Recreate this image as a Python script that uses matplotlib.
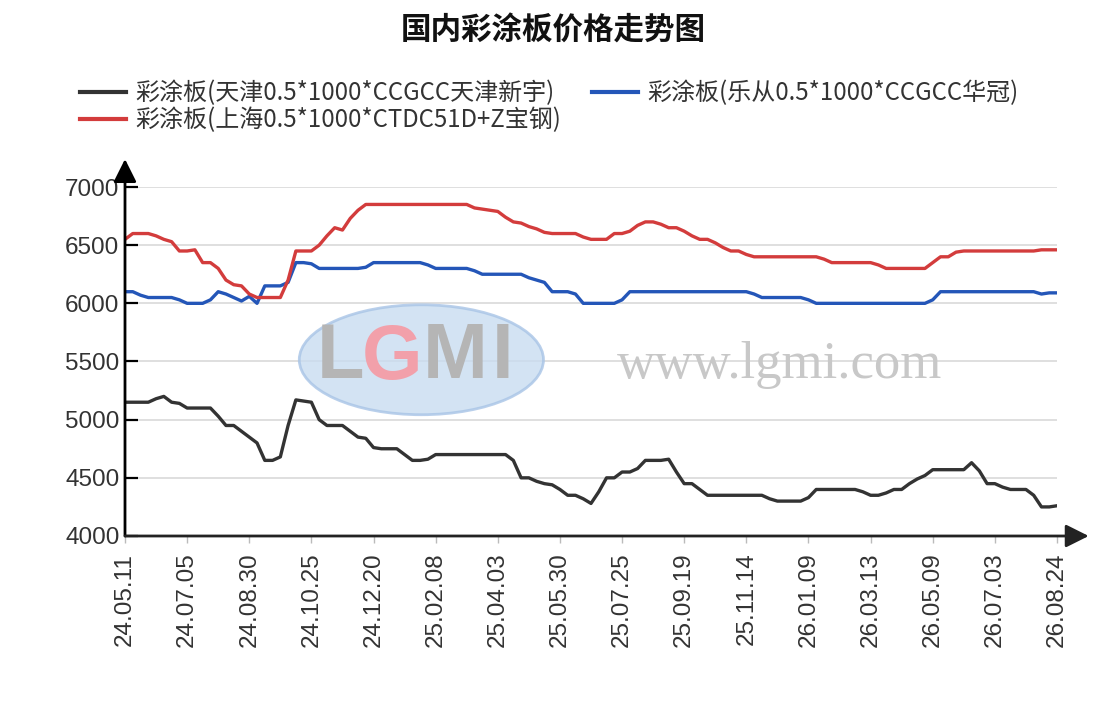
import numpy as np
import matplotlib.pyplot as plt
from matplotlib.patches import Ellipse

plt.rcParams['font.family'] = ['Noto Sans CJK SC', 'DejaVu Sans']

title = '国内彩涂板价格走势图'
names = ['彩涂板(天津0.5*1000*CCGCC天津新宇)',
         '彩涂板(乐从0.5*1000*CCGCC华冠)',
         '彩涂板(上海0.5*1000*CTDC51D+Z宝钢)']
date_labels = ['24.05.11', '24.07.05', '24.08.30', '24.10.25', '24.12.20',
               '25.02.08', '25.04.03', '25.05.30', '25.07.25', '25.09.19',
               '25.11.14', '26.01.09', '26.03.13', '26.05.09', '26.07.03',
               '26.08.24']

# values, 8 samples between two date labels
tianjin = [5150, 5150, 5150, 5150, 5180, 5200, 5150, 5140, 5100, 5100,
           5100, 5100, 5030, 4950, 4950, 4900, 4850, 4800, 4650, 4650,
           4680, 4950, 5170, 5160, 5150, 5000, 4950, 4950, 4950, 4900,
           4850, 4840, 4760, 4750, 4750, 4750, 4700, 4650, 4650, 4660,
           4700, 4700, 4700, 4700, 4700, 4700, 4700, 4700, 4700, 4700,
           4650, 4500, 4500, 4470, 4450, 4440, 4400, 4350, 4350, 4320,
           4280, 4380, 4500, 4500, 4550, 4550, 4580, 4650, 4650, 4650,
           4660, 4550, 4450, 4450, 4400, 4350, 4350, 4350, 4350, 4350,
           4350, 4350, 4350, 4320, 4300, 4300, 4300, 4300, 4330, 4400,
           4400, 4400, 4400, 4400, 4400, 4380, 4350, 4350, 4370, 4400,
           4400, 4450, 4490, 4520, 4570, 4570, 4570, 4570, 4570, 4630,
           4560, 4450, 4450, 4420, 4400, 4400, 4400, 4350, 4250, 4250, 4260]

lecong = [6100, 6100, 6070, 6050, 6050, 6050, 6050, 6030, 6000, 6000,
          6000, 6030, 6100, 6080, 6050, 6020, 6060, 6000, 6150, 6150,
          6150, 6180, 6350, 6350, 6340, 6300, 6300, 6300, 6300, 6300,
          6300, 6310, 6350, 6350, 6350, 6350, 6350, 6350, 6350, 6330,
          6300, 6300, 6300, 6300, 6300, 6280, 6250, 6250, 6250, 6250,
          6250, 6250, 6220, 6200, 6180, 6100, 6100, 6100, 6080, 6000,
          6000, 6000, 6000, 6000, 6030, 6100, 6100, 6100, 6100, 6100,
          6100, 6100, 6100, 6100, 6100, 6100, 6100, 6100, 6100, 6100,
          6100, 6080, 6050, 6050, 6050, 6050, 6050, 6050, 6030, 6000,
          6000, 6000, 6000, 6000, 6000, 6000, 6000, 6000, 6000, 6000,
          6000, 6000, 6000, 6000, 6030, 6100, 6100, 6100, 6100, 6100,
          6100, 6100, 6100, 6100, 6100, 6100, 6100, 6100, 6080, 6090, 6090]

shanghai = [6550, 6600, 6600, 6600, 6580, 6550, 6530, 6450, 6450, 6460,
            6350, 6350, 6300, 6200, 6160, 6150, 6080, 6050, 6050, 6050,
            6050, 6200, 6450, 6450, 6450, 6500, 6580, 6650, 6630, 6730,
            6800, 6850, 6850, 6850, 6850, 6850, 6850, 6850, 6850, 6850,
            6850, 6850, 6850, 6850, 6850, 6820, 6810, 6800, 6790, 6740,
            6700, 6690, 6660, 6640, 6610, 6600, 6600, 6600, 6600, 6570,
            6550, 6550, 6550, 6600, 6600, 6620, 6670, 6700, 6700, 6680,
            6650, 6650, 6620, 6580, 6550, 6550, 6520, 6480, 6450, 6450,
            6420, 6400, 6400, 6400, 6400, 6400, 6400, 6400, 6400, 6400,
            6380, 6350, 6350, 6350, 6350, 6350, 6350, 6330, 6300, 6300,
            6300, 6300, 6300, 6300, 6350, 6400, 6400, 6440, 6450, 6450,
            6450, 6450, 6450, 6450, 6450, 6450, 6450, 6450, 6460, 6460, 6460]

colors = ['#333333', '#2456b8', '#d33c3c']

fig = plt.figure(figsize=(11.07, 7.03), dpi=100)
ax = fig.add_axes([125 / 1107, 1 - 536 / 703, 932 / 1107, 349 / 703])

x = np.arange(len(tianjin))
lines = []
for vals, c, name in zip([tianjin, lecong, shanghai], colors, names):
    ln, = ax.plot(x, vals, color=c, lw=2.4, label=name, zorder=3)
    lines.append(ln)

ax.set_xlim(0, len(x) - 1)
ax.set_ylim(4000, 7000)
ax.set_yticks(np.arange(4000, 7001, 500))
ax.set_xticks(np.arange(0, len(x), 8))
ax.set_xticklabels(date_labels, rotation=90, ha='center', va='top')
ax.yaxis.grid(True, color='#d9d9d9', lw=1.2)
ax.set_axisbelow(True)

for s in ['top', 'right', 'left', 'bottom']:
    ax.spines[s].set_visible(False)

ax.tick_params(axis='y', direction='in', length=9, width=1.6, color='black',
               pad=4, labelsize=17.5, labelcolor='#333333')
ax.tick_params(axis='x', direction='out', length=5, width=1, color='#bbbbbb',
               pad=7, labelsize=17.5, labelcolor='#333333')
for lab in ax.get_xticklabels() + ax.get_yticklabels():
    lab.set_family('Liberation Sans')

# axis arrows
arr = dict(arrowstyle='-|>,head_length=0.7,head_width=0.35', color='black',
           lw=2, mutation_scale=20, shrinkA=0, shrinkB=0)
ax.annotate('', xy=(0, 1.08), xytext=(0, 0), xycoords='axes fraction',
            arrowprops=arr, annotation_clip=False)
ax.annotate('', xy=(1.034, 0), xytext=(0, 0), xycoords='axes fraction',
            arrowprops=dict(arr, color='#222222'), annotation_clip=False)

# watermark
ax.add_patch(Ellipse((0.318, 0.505), 0.262, 0.315, transform=ax.transAxes,
                     facecolor='#c9dcf0', edgecolor='#a8c4e6', lw=2,
                     alpha=0.8, zorder=1))
for ch, px, c in [('L', 340, '#b5b5b5'), ('G', 392, '#f2a0aa'),
                  ('M', 455, '#b5b5b5'), ('I', 503, '#b5b5b5')]:
    ax.text((px - 125) / 932, (536 - 358) / 349, ch, transform=ax.transAxes,
            ha='center', va='center', fontsize=56, fontweight='bold',
            color=c, family='Liberation Sans', zorder=1.5)
ax.text((780 - 125) / 932, (536 - 365) / 349, 'www.lgmi.com',
        transform=ax.transAxes, ha='center', va='center', fontsize=38,
        color='#c8c8c8', family='Liberation Serif', zorder=1.5)

fig.text(0.5, 1 - 31 / 703, title, ha='center', va='center', fontsize=22,
         fontweight='bold', color='#111111')

leg = fig.legend([lines[0], lines[2], lines[1]],
                 [names[0], names[2], names[1]],
                 loc='upper left', bbox_to_anchor=(80 / 1107, 1 - 80 / 703),
                 ncol=2, frameon=False, fontsize=17.3, handlelength=1.9,
                 handletextpad=0.4, columnspacing=1.3, labelspacing=0.05,
                 borderpad=0, borderaxespad=0, labelcolor='#333333')
for h in leg.legend_handles:
    h.set_linewidth(3)

fig.savefig('out.png', dpi=100)
